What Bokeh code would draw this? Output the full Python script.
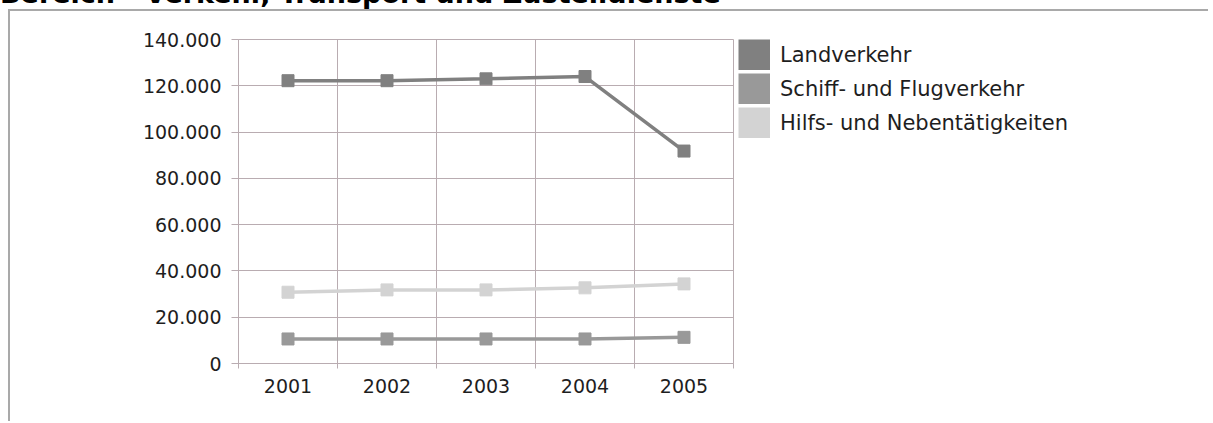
import math
from bokeh.plotting import figure
from bokeh.layouts import column, row
from bokeh.models import FixedTicker, Legend, LegendItem, Range1d, Div
from bokeh.embed import file_html
from bokeh.resources import INLINE

# ---- data ----
title_text = "Bereich - Verkehr, Transport und Zustelldienste"
years = ["2001", "2002", "2003", "2004", "2005"]
landverkehr = [122200, 122200, 123000, 124000, 91800]
schiff_flug = [10600, 10600, 10600, 10600, 11300]
hilfs_neben = [30800, 31800, 31800, 32700, 34400]
series_names = ["Landverkehr", "Schiff- und Flugverkehr", "Hilfs- und Nebentätigkeiten"]
series_colors = ["#808080", "#999999", "#d3d3d3"]
y_ticks = [0, 20000, 40000, 60000, 80000, 100000, 120000, 140000]
y_tick_labels = ["0", "20.000", "40.000", "60.000", "80.000", "100.000", "120.000", "140.000"]

GRID = "#b9acb1"
TEXT = "#1e1e1e"
AXIS_FONT = "DejaVu Sans"

# ---- page title, cut off at the top of the page ----
title_div = Div(
    text='<div style="position:relative;top:-21px;white-space:nowrap;'
         'font-family:\'DejaVu Sans\';font-weight:bold;font-size:27px;'
         'line-height:30px;color:black">' + title_text + '</div>',
    width=1213, height=9, margin=0,
    styles={"overflow": "hidden"})

# ---- main chart ----
W, H = 728, 410
FL, FR, FT, FB = 228, 723, 28, 352

p = figure(width=W, height=H, output_backend="svg", toolbar_location=None,
           x_range=Range1d(0, len(years)), y_range=Range1d(y_ticks[0], y_ticks[-1]),
           min_border_left=FL, min_border_right=W - FR,
           min_border_top=FT, min_border_bottom=H - FB, margin=0)
p.background_fill_color = "white"
p.border_fill_color = "white"
p.outline_line_color = GRID

xs = [i + 0.5 for i in range(len(years))]

# x axis: labels at category centres, ticks/grid at category boundaries
xa = p.xaxis[0]
xa.ticker = FixedTicker(ticks=xs, minor_ticks=list(range(len(years) + 1)))
xa.major_label_overrides = {x: y for x, y in zip(xs, years)}
xa.major_tick_out = 0
xa.major_tick_in = 0
xa.minor_tick_out = 5
xa.minor_tick_in = 0
xa.minor_tick_line_color = GRID
xa.axis_line_color = GRID
xa.major_label_text_font = AXIS_FONT
xa.major_label_text_font_size = "19px"
xa.major_label_text_color = TEXT
xa.major_label_standoff = 10
p.xgrid.grid_line_color = None
p.xgrid.minor_grid_line_color = GRID

ya = p.yaxis[0]
ya.ticker = FixedTicker(ticks=y_ticks)
ya.major_label_overrides = {t: l for t, l in zip(y_ticks, y_tick_labels)}
ya.major_tick_out = 7
ya.major_tick_in = 0
ya.minor_tick_line_color = None
ya.major_tick_line_color = GRID
ya.axis_line_color = GRID
ya.major_label_text_font = AXIS_FONT
ya.major_label_text_font_size = "19px"
ya.major_label_text_color = TEXT
ya.major_label_standoff = 10
p.ygrid.grid_line_color = GRID

for vals, c in zip([landverkehr, schiff_flug, hilfs_neben], series_colors):
    p.line(xs, vals, line_color=c, line_width=3.5)
    p.scatter(xs, vals, marker="square", size=12, fill_color=c, line_color=c)

# ---- legend panel (separate figure to the right of the chart) ----
LW = 470
lf = figure(width=LW, height=H, output_backend="svg", toolbar_location=None,
            x_range=Range1d(0, 1), y_range=Range1d(0, 1),
            x_axis_type=None, y_axis_type=None,
            min_border_left=0, min_border_right=0,
            min_border_top=FT, min_border_bottom=H - FB, margin=0)
lf.grid.visible = False
lf.outline_line_color = None
lf.background_fill_color = "white"
lf.border_fill_color = "white"

items = []
for name, c in zip(series_names, series_colors):
    r = lf.line(x=[math.nan], y=[math.nan], line_color=c, line_width=31)
    items.append(LegendItem(label=name, renderers=[r]))
legend = Legend(items=items, location="top_left",
                glyph_width=32, glyph_height=31, spacing=3, padding=0, margin=0,
                label_standoff=10, border_line_color=None, background_fill_alpha=0,
                label_text_font="DejaVu Sans", label_text_font_size="21px",
                label_text_color=TEXT)
lf.add_layout(legend)

chart_row = row(p, lf, spacing=0, margin=(0, 0, 0, 8),
                styles={"border-top": "2px solid #a9a9a9",
                        "border-left": "2px solid #a9a9a9"})

layout = column(title_div, chart_row, spacing=0)
open("out.html", "w").write(file_html(layout, INLINE))
